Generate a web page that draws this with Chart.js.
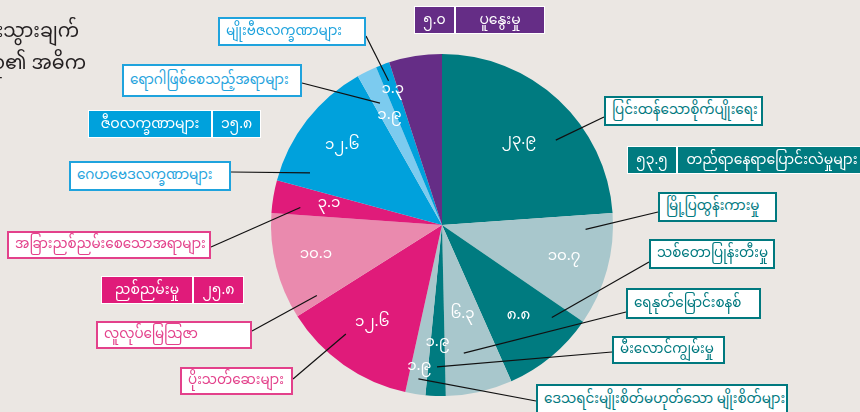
<!DOCTYPE html>
<html>
<head>
<meta charset="utf-8">
<script src="https://cdn.jsdelivr.net/npm/chart.js@4.4.1/dist/chart.umd.min.js"></script>
<style>
  body { margin: 0; background: #ebe7e3; }
  #wrap { position: relative; width: 860px; height: 412px; overflow: hidden; background: #ebe7e3;
          font-family: "Noto Sans Myanmar", "Padauk", "Myanmar Text", "Noto Sans", sans-serif; }
  canvas { position: absolute; left: 0; top: 0; }
  .title { position: absolute; font-size: 19px; color: #231f20; white-space: nowrap; }
  .box { position: absolute; background: #fff; border: 2px solid; box-sizing: border-box;
         font-size: 13.5px; white-space: nowrap; padding-left: 6px; display: flex; align-items: center; }
  .grp { position: absolute; display: flex; color: #fff; font-size: 14px; }
  .grp div { border: 1.5px solid #fff; box-sizing: border-box; display: flex; align-items: center;
             justify-content: center; white-space: nowrap; }
</style>
</head>
<body>
<div id="wrap">
  <canvas id="myChart" width="860" height="412"></canvas>
</div>
<script>
// categories (clockwise from 12 o'clock)
const categories = [
  "ပြင်းထန်သောစိုက်ပျိုးရေး",
  "မြို့ပြထွန်းကားမှု",
  "သစ်တောပြုန်းတီးမှု",
  "ရေနုတ်မြောင်းစနစ်",
  "မီးလောင်ကျွမ်းမှု",
  "ဒေသရင်းမျိုးစိတ်မဟုတ်သော မျိုးစိတ်များ",
  "ပိုးသတ်ဆေးများ",
  "လူလုပ်မြေသြဇာ",
  "အခြားညစ်ညမ်းစေသောအရာများ",
  "ဂေဟဗေဒလက္ခဏာများ",
  "ရောဂါဖြစ်စေသည့်အရာများ",
  "မျိုးဗီဇလက္ခဏာများ",
  "ပူနွေးမှု"
]
const values = [23.9, 10.7, 8.8, 6.3, 1.9, 1.9, 12.6, 10.1, 3.1, 12.6, 1.9, 1.3, 5.0]

// group totals
const groupNames = ["တည်ရာနေရာပြောင်းလဲမှုများ", "ညစ်ညမ်းမှု", "ဇီဝလက္ခဏာများ", "ပူနွေးမှု"]
const groupTotals = [53.5, 25.8, 15.8, 5.0]

const titleLines = ["ဇီဝမျိုးစုံမျိုးကွဲ လျော့နည်းသွားချက်", "အကြောင်းရင်းအုပ်စု၏ အဓိက"]

const sliceColors = ["#007b80", "#a8c7cc", "#007b80", "#a8c7cc", "#007b80", "#a8c7cc",
  "#e01b7a", "#ea8aae", "#e01b7a", "#00a1dc", "#7ccbef", "#00a1dc", "#652d86"]

// myanmar digits
function mmNum(v) {
  const d = "၀၁၂၃၄၅၆၇၈၉"
  return v.toFixed(1).replace(/[0-9]/g, c => d[+c])
}

// where the value sits inside each slice (fraction of radius)
const valueRadius = [0.66, 0.74, 0.70, 0.55, 0.70, 0.85, 0.71, 0.76, 0.67, 0.74, 0.70, 0.83, null]

// label boxes: x, y, w, h, side the leader leaves from, leader y offset, anchor (t along slice, r fraction)
const boxes = [
  { x: 604, y: 96, w: 159, h: 30, side: "l", ly: 21, t: 0.62, r: 0.83, c: "#00797f" },
  { x: 658, y: 192, w: 119, h: 30, side: "l", ly: 20, t: 0.15, r: 0.84, c: "#00797f" },
  { x: 649, y: 239, w: 126, h: 30, side: "l", ly: 23, t: 0.18, r: 0.84, c: "#00797f" },
  { x: 626, y: 288, w: 135, h: 31, side: "l", ly: 24, t: 0.63, r: 0.76, c: "#00797f" },
  { x: 612, y: 336, w: 113, h: 28, side: "l", ly: 16, t: 0.48, r: 0.83, c: "#00797f" },
  { x: 536, y: 384, w: 252, h: 32, side: "l", ly: 17, t: 0.46, r: 0.91, c: "#00797f" },
  { x: 180, y: 367, w: 113, h: 28, side: "r", ly: 12, t: 0.64, r: 0.85, c: "#e3418b" },
  { x: 96, y: 321, w: 156, h: 28, side: "r", ly: 10, t: 0.08, r: 0.84, c: "#e3418b" },
  { x: 7, y: 231, w: 204, h: 28, side: "r", ly: 16, t: 0.27, r: 0.835, c: "#e3418b" },
  { x: 69, y: 161, w: 162, h: 30, side: "r", ly: 11, t: 0.14, r: 0.83, c: "#1fa3dd" },
  { x: 122, y: 64, w: 180, h: 33, side: "r", ly: 19, t: 0.37, r: 0.80, c: "#1fa3dd" },
  { x: 218, y: 17, w: 148, h: 29, side: "r", ly: 19, t: 0.5, r: 0.90, c: "#1fa3dd" }
]

// group header boxes: x, y, number cell width, name cell width, h, number first?
const groupBoxes = [
  { x: 627, y: 146, nw: 50, tw: 190, h: 28, numFirst: true, bg: "#007b80" },
  { x: 101, y: 276, nw: 51, tw: 92, h: 28, numFirst: false, bg: "#e01b7a" },
  { x: 88, y: 110, nw: 49, tw: 124, h: 28, numFirst: false, bg: "#00a1dc" },
  { x: 414, y: 6, nw: 41, tw: 90, h: 28, numFirst: true, bg: "#652d86" }
]

const wrap = document.getElementById("wrap")

titleLines.forEach((t, i) => {
  const el = document.createElement("div")
  el.className = "title"
  el.style.right = (860 - (i == 0 ? 79 : 86)) + "px"
  el.style.top = (i == 0 ? 12 : 44) + "px"
  el.innerText = t
  wrap.appendChild(el)
})

boxes.forEach((b, i) => {
  const el = document.createElement("div")
  el.className = "box"
  el.style.left = b.x + "px"
  el.style.top = b.y + "px"
  el.style.width = b.w + "px"
  el.style.height = b.h + "px"
  el.style.borderColor = b.c
  el.style.color = b.c
  el.innerText = categories[i]
  wrap.appendChild(el)
})

groupBoxes.forEach((g, i) => {
  const el = document.createElement("div")
  el.className = "grp"
  el.style.left = g.x + "px"
  el.style.top = g.y + "px"
  el.style.height = g.h + "px"
  const num = document.createElement("div")
  num.style.width = g.nw + "px"
  num.style.background = g.bg
  num.innerText = mmNum(groupTotals[i])
  const name = document.createElement("div")
  name.style.width = g.tw + "px"
  name.style.background = g.bg
  name.innerText = groupNames[i]
  if (g.numFirst) el.append(num, name)
  else el.append(name, num)
  wrap.appendChild(el)
})

// leader lines + values drawn on top of the pie
const labelPlugin = {
  id: "labels",
  afterDatasetsDraw(chart) {
    const ctx = chart.ctx
    const arcs = chart.getDatasetMeta(0).data
    ctx.save()
    ctx.strokeStyle = "#111"
    ctx.lineWidth = 1.2
    boxes.forEach((b, i) => {
      const p = arcs[i].getProps(["x", "y", "startAngle", "endAngle", "outerRadius"], true)
      const a = p.startAngle + b.t * (p.endAngle - p.startAngle)
      const ax = p.x + Math.cos(a) * p.outerRadius * b.r
      const ay = p.y + Math.sin(a) * p.outerRadius * b.r
      const bx = b.side == "l" ? b.x : b.x + b.w
      ctx.beginPath()
      ctx.moveTo(bx, b.y + b.ly)
      ctx.lineTo(ax, ay)
      ctx.stroke()
    })
    ctx.fillStyle = "#fff"
    ctx.font = '15px "Noto Sans Myanmar", "Padauk", "Myanmar Text", "Noto Sans", sans-serif'
    ctx.textAlign = "center"
    ctx.textBaseline = "middle"
    arcs.forEach((arc, i) => {
      if (valueRadius[i] == null) return
      const p = arc.getProps(["x", "y", "startAngle", "endAngle", "outerRadius"], true)
      const a = (p.startAngle + p.endAngle) / 2
      ctx.fillText(mmNum(values[i]), p.x + Math.cos(a) * p.outerRadius * valueRadius[i],
        p.y + Math.sin(a) * p.outerRadius * valueRadius[i])
    })
    ctx.restore()
  }
}

new Chart(document.getElementById("myChart"), {
  type: "pie",
  data: {
    labels: categories,
    datasets: [{
      data: values,
      backgroundColor: sliceColors,
      borderWidth: 0
    }]
  },
  options: {
    responsive: false,
    animation: false,
    layout: { padding: { left: 271, right: 247, top: 54, bottom: 16 } },
    plugins: {
      legend: { display: false },
      tooltip: { enabled: false }
    }
  },
  plugins: [labelPlugin]
})
</script>
</body>
</html>
